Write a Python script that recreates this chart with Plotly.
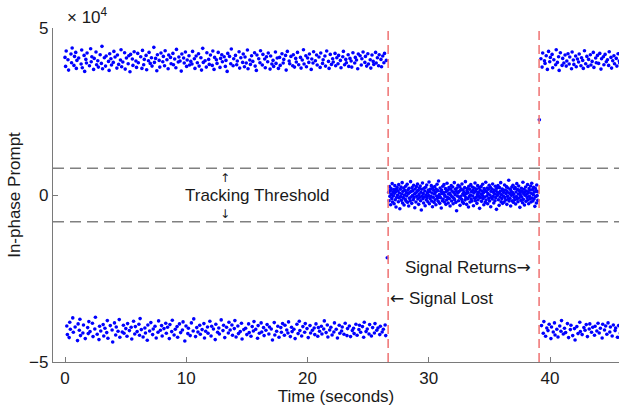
import numpy as np
import plotly.graph_objects as go

# ---------------- data (in-phase prompt, units of 1e4) ----------------
# segment A: tracking, data bits flip the sign of the prompt
ip_seg_a = [
 4.12, 3.85, 4.31, -3.92, -4.18, 4.05, 3.74, -4.27, -3.81, -4.02, 4.22, 3.96, 4.40, -3.68, -4.11,
 3.88, 4.15, -3.95, 4.27, 3.79, 4.03, -4.36, -3.86, 4.10, -4.05, -3.72, -4.21, 3.92, 4.34, 3.81,
 -4.13, -3.89, 4.18, 3.70, -4.30, 4.06, 3.95, 4.25, -3.97, -4.15, -3.79, 3.87, -4.09, 4.38, 3.99,
 4.14, -3.84, -4.24, 3.76, 4.09, -4.01, -3.66, 4.28, 3.90, -4.17, 4.02, 3.83, -4.33, -3.93, 4.20,
 -4.07, 3.94, 4.45, 3.78, -3.88, -4.22, 4.11, -3.99, 3.86, 4.16, -4.12, -3.76, -4.29, 4.00, 3.73,
 4.23, -3.91, 4.08, 3.89, -4.04, -4.40, 3.97, 4.30, -3.83, 4.13, -4.19, -3.95, 3.80, 4.19, -4.08,
 3.91, -3.73, -4.26, 4.04, 4.35, 3.84, -4.10, 3.98, -3.90, -4.14, 4.26, 3.77, -4.00, 4.10, -4.23,
 -3.85, 3.93, 4.17, -4.06, 3.69, 4.21, -3.96, -4.31, 4.07, 3.88, -3.78, 4.29, -4.16, -3.94, 4.01,
 3.82, -4.09, 4.24, 3.96, -3.87, -4.20, -3.70, 4.14, -4.03, 3.79, 4.33, -4.25, 3.90, 4.06, -3.98,
 -4.13, 4.18, 3.75, -4.35, -3.89, 4.02, 4.27, -4.07, 3.94, -3.82, 4.11, 3.86, -4.18, -4.01, 4.42,
 3.97, -3.93, 4.09, -4.28, 3.72, 4.20, -4.11, -3.77, 4.03, 3.83, -4.05, 4.25, -3.91, -4.22, 3.99,
 4.15, -4.00, 3.87, 4.32, -3.84, -4.14, 4.05, -3.96, 3.78, 4.19, -4.30, -3.88, 4.12, 3.93, -4.09,
 -3.75, 4.24, 3.90, -4.19, 4.07, -4.02, 3.81, 4.36, -3.94, -4.26, 3.98, 4.13, -3.86, 4.01, -4.12,
 3.71, 4.22, -4.04, -3.80, 4.10, 3.95, -4.37, 4.28, -3.92, 3.85, 4.04, -4.15, -3.99, 4.17, 3.89,
 -4.21, 4.00, -3.83, 3.92, 4.30, -4.07, -3.71, 4.08, 3.79, -4.24, 4.16, -3.97, 3.96, -4.10, 4.23,
 3.86, -3.90, -4.17, 4.11, 3.74, -4.03, 4.39, 3.97, -3.85, -4.28, 4.02, -4.08, 3.83, 4.26, -3.95,
 -4.14, 4.06, 3.91, -3.78, 4.19, -4.22, -3.93, 3.88, 4.31, -4.01, 3.76, 4.12, -4.33, -3.87, 4.05,
 3.94, -4.11, 4.27, -3.98, -4.16, 3.82, 4.09, -3.74, 4.20, 3.99, -4.06, -3.90, 4.14, -4.27, 3.85,
 4.03, -3.96, 3.70, 4.24, -4.13, -3.81, 4.15, -4.04, 3.93, 4.37, -3.89, -4.20, 3.87, 4.08, -4.00,
 -3.76, 4.18, -4.25, 3.90, 4.01, -3.92, -4.15, 4.29, 3.80, -4.09, 4.11, -3.84, -4.31, 3.97, 4.22,
 -4.03, 3.84, 4.13, -3.99, 3.95, -4.18, 4.34, 3.78, -3.86, -4.12, 4.04, 3.91, -4.23, 4.17, -3.94,
 4.00, -4.07, -3.79, 4.26, 3.86, -4.02, 3.73, 4.19, -4.29, -3.91, 4.08, -4.14, 3.96, 4.32, -3.83,
 -4.10, 3.89, 4.21, -3.97, -4.21, 4.07, 3.81, -4.05, 4.14, -3.88, 3.99, 4.25, -4.16, -3.95, 3.77,
 4.16, -4.01, 3.92, -4.34, 4.03, 3.85, -3.82, -4.19, 4.28, 3.94, -4.08, 4.10, -3.93, 3.79, -4.26,
 4.12, 3.88, -3.97, -4.11, 4.23, -3.85, 3.95, 4.06, -4.20, -3.90, 4.18, 3.74, -4.04, 4.30, -4.13,
 -3.80, 4.01, 3.93, -4.24, 4.15, -3.96, -4.09, 3.87, 4.20, -4.02, 3.83, -4.30, 4.09, 3.98, -3.87,
 4.27, -4.15, 3.90, -3.78, -4.06, 4.12, 3.80, -4.22, 4.04, -3.94, 4.35, 3.92, -4.11, -3.85, 4.17,
 3.84, -4.00, 4.10, -4.27, 3.97, 4.22, -3.91, -4.13, 3.76, 4.07, -4.05, 3.95, 4.29, -3.98, -4.18,
 4.02, -3.86, 4.19, 3.89, -4.23, -3.97, 4.13, -4.08, 3.82, 4.25, -3.93, -4.16, 3.94, 4.05, -4.01,
 -3.77, 4.16, 3.86, -4.12, 4.31, -3.89, -4.25, 4.00, 3.79, -4.04, 4.21, -3.96, 3.91, -4.19, 4.08,
 3.98, -4.10, -3.83, 4.24, 3.87, -4.02, 4.11, -4.28, 3.93, 4.18, -3.90, -4.14, 4.03, 3.81, -4.07,
 -3.95, 4.14, 4.30, -4.17, 3.90, -3.84, 4.06, 3.96, -4.21, -4.00, 4.20, 3.85, -3.92, 4.09, -4.24,
 4.01, 3.83, -4.06, 4.26, -3.99, -4.15, 3.95, 4.12, -3.87, 4.04, -4.20, 3.78, 4.22, -4.03, -3.90,
 4.17, -4.11, 3.89, 4.08, -3.94, 4.28, -4.26, -3.81, 3.97, 4.15, -4.09, 3.86, -4.01, 4.23, 3.92,
 -4.16, -3.88, 4.05, 3.80, -4.22, 4.19, -3.97, 4.00, 3.91, -4.13, -3.85, 4.27, 3.95, -4.05, 4.11,
 -3.98, 3.87, 4.20, -4.18, -3.93, 4.06, 3.84, -4.10, 4.16, -4.02, 3.96, 4.24, -3.89, -4.21, 4.03,
]
# segment B: signal lost, only noise around zero
ip_seg_b = [
 0.08, -0.17, 0.25, -0.04, 0.13, -0.29, 0.19, 0.02, -0.11, 0.34, -0.21, 0.09, -0.03, 0.16, -0.26,
 0.05, 0.28, -0.14, 0.10, -0.36, 0.18, -0.07, 0.22, -0.01, 0.12, -0.20, 0.31, -0.09, 0.06, -0.41,
 0.17, -0.05, 0.24, -0.16, 0.03, 0.37, -0.24, 0.11, -0.08, 0.21, -0.30, 0.00, 0.14, -0.13, 0.26,
 -0.18, 0.07, -0.03, 0.32, -0.22, 0.15, 0.04, -0.33, 0.20, -0.10, 0.08, -0.17, 0.40, -0.06, 0.11,
 -0.25, 0.22, -0.02, 0.13, -0.14, 0.29, -0.08, 0.03, -0.38, 0.18, 0.06, -0.21, 0.25, -0.04, 0.10,
 0.33, -0.12, 0.14, -0.28, 0.01, 0.21, -0.07, 0.27, -0.17, 0.08, -0.45, 0.17, -0.03, 0.36, -0.11,
 0.04, -0.24, 0.20, -0.06, 0.12, -0.32, 0.23, 0.00, -0.15, 0.30, -0.08, 0.07, -0.20, 0.15, -0.02,
 0.39, -0.26, 0.10, -0.11, 0.18, -0.04, 0.28, -0.18, 0.06, -0.35, 0.22, -0.07, 0.14, -0.22, 0.03,
 0.25, -0.14, 0.08, -0.29, 0.17, -0.03, 0.32, -0.10, 0.13, -0.19, 0.42, -0.05, 0.01, -0.25, 0.21,
 -0.08, 0.11, -0.39, 0.15, 0.04, -0.17, 0.26, -0.12, 0.07, 0.31, -0.21, 0.00, -0.04, 0.19, -0.28,
 0.10, -0.15, 0.35, -0.07, 0.14, -0.24, 0.03, 0.22, -0.11, 0.05, -0.33, 0.18, -0.01, 0.28, -0.18,
 0.12, -0.06, 0.24, -0.26, 0.08, -0.10, 0.37, -0.14, 0.01, 0.17, -0.22, 0.11, -0.47, 0.21, -0.03,
 0.06, 0.29, -0.17, 0.10, -0.07, 0.25, -0.31, 0.14, -0.04, 0.18, -0.13, 0.33, -0.20, 0.03, 0.15,
 -0.25, 0.08, -0.01, 0.22, -0.15, 0.40, -0.08, 0.04, -0.28, 0.13, 0.19, -0.11, 0.07, -0.36, 0.26,
 -0.05, 0.17, -0.21, 0.00, 0.31, -0.12, 0.10, -0.18, 0.24, -0.03, 0.14, -0.32, 0.06, 0.21, -0.10,
 0.36, -0.17, 0.11, -0.07, 0.18, -0.25, 0.01, 0.28, -0.14, 0.08, -0.04, 0.22, -0.40, 0.15, -0.08,
 0.03, 0.25, -0.19, 0.12, -0.01, 0.32, -0.11, 0.07, -0.29, 0.19, -0.06, 0.14, -0.22, 0.38, -0.15,
 0.10, -0.03, 0.21, -0.26, 0.04, 0.17, -0.10, 0.29, -0.18, 0.00, 0.23, -0.35, 0.11, -0.07, 0.18,
 -0.12, 0.33, -0.04, 0.08, -0.24, 0.15, 0.03, -0.17, 0.26, -0.08, 0.12, -0.43, 0.20, -0.01, 0.07,
 0.28, -0.14, 0.05, -0.31, 0.22, -0.06, 0.11, 0.37, -0.20, 0.01, -0.11, 0.18, -0.25, 0.14, -0.03,
 0.08, -0.21, 0.30, -0.08, 0.15, -0.15, 0.04, 0.25, -0.28, 0.10, -0.04, 0.21, -0.13, 0.44, -0.18,
 0.05, -0.10, 0.17, -0.33, 0.12, -0.01, 0.24, -0.17, 0.07, 0.29, -0.22, 0.02, -0.07, 0.19, -0.14,
 0.22, -0.27, 0.09, -0.05, 0.34, -0.12, 0.16, -0.20, 0.03, 0.27, -0.09, 0.13, -0.37, 0.06, -0.02,
 -0.16, 0.20, -0.06, 0.11, -0.23, 0.38, -0.13, 0.04, 0.17, -0.30, 0.09, -0.01, 0.24, -0.19, 0.12,
 0.02, -0.08, 0.31, -0.15, 0.07, -0.26, 0.19, -0.04, 0.14, -0.11, 0.27, -0.21, 0.05, 0.35, -0.09,
 0.16, -0.18, 0.01, 0.23, -0.12, 0.09, -0.34, 0.20, -0.05, 0.13, -0.24, 0.30, -0.02, 0.10, -0.16,
]
# segment C: signal returns, tracking again
ip_seg_c = [
 4.08, -3.91, 3.83, 4.25, -4.14, -3.79, 4.02, 3.94, -4.23, 4.17, -3.98, 3.76, -4.06, 4.30,
 -3.87, 3.99, 4.12, -4.30, -3.95, 4.21, 3.81, -4.10, 4.05, -3.83, -4.19, 3.90, 4.35, -4.02,
 3.97, -4.25, 4.14, 3.73, -3.92, 4.26, -4.08, -3.76, 3.88, 4.09, -4.16, 3.95, -3.99, 4.19,
 -4.12, 3.86, 4.01, -3.85, 4.23, -4.27, 3.92, 4.13, -4.03, -3.90, 3.78, 4.28, -4.21, 4.04,
 3.91, -4.00, -4.34, 4.16, 3.84, -3.94, 4.07, -4.15, 3.98, 4.22, -3.81, -4.09, 3.87, 4.11,
 -4.18, 4.03, 3.79, -3.97, 4.32, -4.05, 3.93, -3.88, 4.15, -4.24, 3.85, 4.06, -4.01, -3.86,
 4.20, 3.89, -4.11, 4.00, -3.96, 4.27, 3.82, -4.20, -3.93, 4.10, 3.96, -4.07, 4.18, -3.84,
 3.94, -4.13, 4.24, -3.99, 3.77, 4.08, -4.28, -3.87, 4.14, 3.90, -4.04, 4.21, -3.92, 3.99,
 -4.17, 4.05, -3.83, 3.88, 4.29, -4.10, -3.95, 4.12, 3.80, -4.22, 4.02, -3.89, 4.17, 3.93,
 -4.06, -3.98, 4.09, 3.86, -4.26, 4.23, -3.91, 4.01, 3.95, -4.14, -3.85, 4.15, -4.02, 3.90,
]
# transition samples (time s, value 1e4)
transition_t = [26.58, 39.12]
transition_v = [-1.88, 2.25]

# segment time spans (seconds)
seg_a = (0.0, 26.5)
seg_b = (26.7, 39.0)
seg_c = (39.25, 46.0)
SIGNAL_LOST_T = 26.65
SIGNAL_RETURN_T = 39.1
THRESHOLD = 0.8  # x 1e4

x_ticks = [0, 10, 20, 30, 40]
y_ticks = [-5, 0, 5]

# ---------------- figure ----------------
t_a = np.linspace(seg_a[0], seg_a[1], len(ip_seg_a))
t_b = np.linspace(seg_b[0], seg_b[1], len(ip_seg_b))
t_c = np.linspace(seg_c[0], seg_c[1], len(ip_seg_c))

t_all = np.concatenate([t_a, t_b, t_c, transition_t])
v_all = np.concatenate([ip_seg_a, ip_seg_b, ip_seg_c, transition_v])

XR = [-0.99, 45.69]
YR = [-5, 5]
FONT = "Liberation Sans, Arial, sans-serif"
ARROWFONT = "DejaVu Sans"
TXT = "#1a1a1a"
AX = "#7a7a7a"


def arrow(ch):
    return f"<span style='font-family:{ARROWFONT}'>{ch}</span>"


fig = go.Figure()
fig.add_trace(go.Scatter(
    x=t_all, y=v_all, mode="markers",
    marker=dict(color="#0000ff", size=3.6, line=dict(width=0)),
    showlegend=False, hoverinfo="skip",
))

# threshold lines
for yv in (THRESHOLD, -THRESHOLD):
    fig.add_shape(type="line", xref="x", yref="y", x0=XR[0], x1=XR[1], y0=yv, y1=yv,
                  line=dict(color="#808080", width=1.4, dash="11px,6px"), layer="below")
# event lines
for xv in (SIGNAL_LOST_T, SIGNAL_RETURN_T):
    fig.add_shape(type="line", xref="x", yref="y", x0=xv, x1=xv, y0=YR[0], y1=YR[1],
                  line=dict(color="#f07a7a", width=1.6, dash="9px,5px"), layer="above")

ann = [
    dict(x=15.9, y=0.0, text="Tracking Threshold", size=17, xanchor="center", fam=FONT),
    dict(x=13.2, y=0.52, text="↑", size=12, xanchor="center", fam=ARROWFONT),
    dict(x=13.2, y=-0.56, text="↓", size=12, xanchor="center", fam=ARROWFONT),
    dict(x=27.9, y=-2.16, text="Signal Returns" + arrow("→"), size=17, xanchor="left", fam=FONT),
    dict(x=26.6, y=-3.08, text=arrow("←") + " Signal Lost", size=17, xanchor="left", fam=FONT),
]
for a in ann:
    fig.add_annotation(x=a["x"], y=a["y"], xref="x", yref="y", text=a["text"],
                       showarrow=False, xanchor=a["xanchor"], yanchor="middle",
                       font=dict(family=a["fam"], size=a["size"], color=TXT))
fig.add_annotation(x=0.022, y=0.997, xref="paper", yref="paper", text="× 10<sup>4</sup>",
                   showarrow=False, xanchor="left", yanchor="bottom",
                   font=dict(family=FONT, size=17, color=TXT))

fig.update_layout(
    width=619, height=406,
    margin=dict(l=53, r=0, t=28, b=44),
    paper_bgcolor="white", plot_bgcolor="white",
    font=dict(family=FONT, size=17, color=TXT),
    xaxis=dict(range=XR, tickvals=x_ticks, showgrid=False, zeroline=False,
               showline=True, linecolor=AX, linewidth=1.2,
               ticks="inside", ticklen=5, tickcolor=AX,
               tickfont=dict(size=17, color=TXT),
               title=dict(text="Time (seconds)", standoff=0, font=dict(size=17, color=TXT))),
    yaxis=dict(range=YR, tickvals=y_ticks, showgrid=False, zeroline=False,
               showline=True, linecolor=AX, linewidth=1.2,
               ticks="inside", ticklen=5, tickcolor=AX,
               tickfont=dict(size=17, color=TXT),
               title=dict(text="In-phase Prompt", standoff=4, font=dict(size=17, color=TXT))),
)

fig.write_html("out.html", config={"displayModeBar": False})
